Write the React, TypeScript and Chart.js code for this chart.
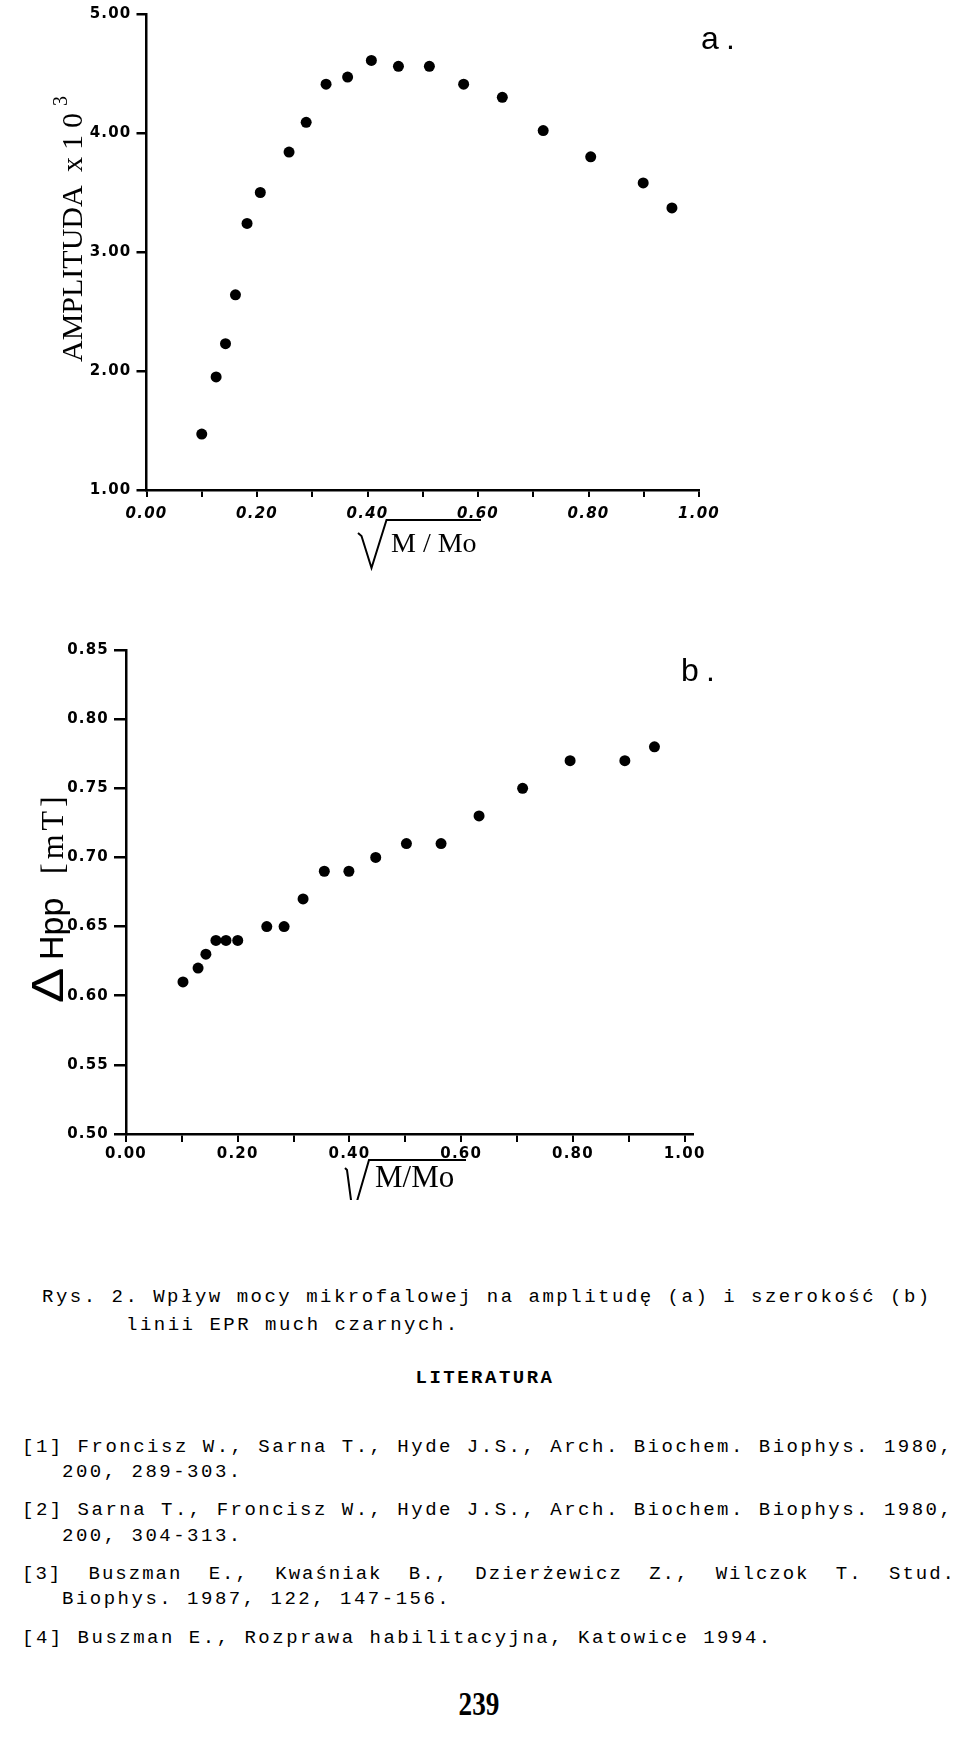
import React, { useEffect, useRef } from 'react';
import { Chart, registerables } from 'chart.js';
Chart.register(...registerables);

// ---- data ----
const ampX = [0.100, 0.126, 0.143, 0.161, 0.182, 0.206, 0.258, 0.289, 0.325, 0.364, 0.407, 0.456, 0.512, 0.574, 0.644, 0.718, 0.804, 0.899, 0.951];
const ampY = [1.47, 1.95, 2.23, 2.64, 3.24, 3.50, 3.84, 4.09, 4.41, 4.47, 4.61, 4.56, 4.56, 4.41, 4.30, 4.02, 3.80, 3.58, 3.37];
const hppX = [0.102, 0.129, 0.143, 0.161, 0.179, 0.200, 0.252, 0.283, 0.317, 0.355, 0.399, 0.447, 0.502, 0.564, 0.632, 0.710, 0.795, 0.893, 0.946];
const hppY = [0.61, 0.62, 0.63, 0.64, 0.64, 0.64, 0.65, 0.65, 0.67, 0.69, 0.69, 0.70, 0.71, 0.71, 0.73, 0.75, 0.77, 0.77, 0.78];

const captionLines = [
  'Rys. 2. Wpływ mocy mikrofalowej na amplitudę (a) i szerokość (b)',
  'linii EPR much czarnych.',
];
const refLines = [
  '[1] Froncisz W., Sarna T., Hyde J.S., Arch. Biochem. Biophys. 1980,',
  '200, 289-303.',
  '[2] Sarna T., Froncisz W., Hyde J.S., Arch. Biochem. Biophys. 1980,',
  '200, 304-313.',
  '[3] Buszman E., Kwaśniak B., Dzierżewicz Z., Wilczok T. Stud.',
  'Biophys. 1987, 122, 147-156.',
  '[4] Buszman E., Rozprawa habilitacyjna, Katowice 1994.',
];

const tickFont = { family: 'DejaVu Sans', size: 15, weight: 'bold' as const };
const tickFontItalic = { family: 'DejaVu Sans', size: 15, weight: 'bold' as const, style: 'italic' as const };

function spacingPlugin(px: string) {
  return {
    id: 'spacing',
    beforeDraw(chart: any) { chart.ctx.letterSpacing = px; },
    afterDraw(chart: any) { chart.ctx.letterSpacing = '0px'; },
  };
}

function decorPlugin(draw: (ctx: CanvasRenderingContext2D, chart: any) => void) {
  return {
    id: 'decor',
    afterDraw(chart: any) {
      const ctx = chart.ctx as CanvasRenderingContext2D;
      ctx.save();
      (ctx as any).letterSpacing = '0px';
      ctx.fillStyle = '#000';
      ctx.strokeStyle = '#000';
      ctx.textAlign = 'left';
      ctx.textBaseline = 'alphabetic';
      draw(ctx, chart);
      ctx.restore();
    },
  };
}

interface PanelCfg {
  xs: number[]; ys: number[];
  yMin: number; yMax: number; yStep: number;
  xMax: number;
  width: number; height: number;
  padTop: number; padRight: number;
  yWidth: number; xHeight: number;
  yTickLen: number; yPad: number; xTickLen: number; xPad: number;
  xFont: any;
  draw: (ctx: CanvasRenderingContext2D, chart: any) => void;
}

function Panel({ cfg, top }: { cfg: PanelCfg; top: number }) {
  const ref = useRef<HTMLCanvasElement>(null);
  useEffect(() => {
    if (!ref.current) return;
    const chart = new Chart(ref.current, {
      type: 'scatter',
      data: {
        datasets: [{
          data: cfg.xs.map((x, i) => ({ x, y: cfg.ys[i] })),
          backgroundColor: '#000',
          borderColor: '#000',
          borderWidth: 0,
          pointRadius: 5.5,
          pointHoverRadius: 5.5,
        }],
      },
      options: {
        responsive: false,
        maintainAspectRatio: false,
        animation: false,
        events: [],
        layout: { padding: { top: cfg.padTop, right: cfg.padRight, left: 0, bottom: 0 } },
        plugins: { legend: { display: false }, tooltip: { enabled: false } },
        scales: {
          x: {
            type: 'linear',
            min: 0,
            max: cfg.xMax,
            afterFit: (s: any) => { s.height = cfg.xHeight; },
            border: { display: true, color: '#000', width: 2.5 },
            grid: { display: true, drawOnChartArea: false, drawTicks: true, tickLength: cfg.xTickLen, color: '#000', lineWidth: 2 },
            ticks: {
              stepSize: 0.1,
              includeBounds: false,
              autoSkip: false,
              maxRotation: 0,
              color: '#000',
              font: cfg.xFont,
              padding: cfg.xPad,
              callback: (v: any) => (Math.round(Number(v) * 10) % 2 === 0 ? Number(v).toFixed(2) : ''),
            },
          },
          y: {
            type: 'linear',
            min: cfg.yMin,
            max: cfg.yMax,
            afterFit: (s: any) => { s.width = cfg.yWidth; },
            border: { display: true, color: '#000', width: 2.5 },
            grid: { display: true, drawOnChartArea: false, drawTicks: true, tickLength: cfg.yTickLen, color: '#000', lineWidth: 2.5 },
            ticks: {
              stepSize: cfg.yStep,
              autoSkip: false,
              color: '#000',
              font: tickFont,
              padding: cfg.yPad,
              callback: (v: any) => Number(v).toFixed(2),
            },
          },
        },
      },
      plugins: [spacingPlugin('1.2px'), decorPlugin(cfg.draw)],
    } as any);
    return () => chart.destroy();
  }, []);
  return (
    <canvas
      ref={ref}
      width={cfg.width}
      height={cfg.height}
      style={{ position: 'absolute', left: 0, top, width: cfg.width, height: cfg.height }}
    />
  );
}

const panelA: PanelCfg = {
  xs: ampX, ys: ampY,
  yMin: 1, yMax: 5, yStep: 1,
  xMax: 1,
  width: 760, height: 580,
  padTop: 10, padRight: 61,
  yWidth: 146.5, xHeight: 90,
  yTickLen: 10, yPad: 5, xTickLen: 7, xPad: 8,
  xFont: tickFontItalic,
  draw: (ctx) => {
    // y-axis title
    ctx.save();
    ctx.translate(82, 0);
    ctx.rotate(-Math.PI / 2);
    ctx.font = '30px "Liberation Serif"';
    ctx.fillText('AMPLITUDA', -362, 0);
    ctx.fillText('x', -172, 0);
    ctx.fillText('1', -150, 0);
    ctx.fillText('0', -128, 0);
    ctx.font = '20px "Liberation Serif"';
    ctx.fillText('3', -106, -15);
    ctx.restore();
    // x-axis title with radical
    ctx.lineWidth = 2;
    ctx.beginPath();
    ctx.moveTo(358, 533);
    ctx.lineTo(361.5, 536);
    ctx.lineTo(371.5, 568);
    ctx.lineTo(386.5, 520);
    ctx.lineTo(481, 520);
    ctx.stroke();
    ctx.font = '28px "Liberation Serif"';
    ctx.fillText('M / Mo', 391, 552);
    // panel letter
    ctx.font = '32px "Liberation Sans"';
    ctx.fillText('a', 701, 49);
    ctx.fillText('.', 726, 49);
  },
};

const panelB: PanelCfg = {
  xs: hppX, ys: hppY,
  yMin: 0.5, yMax: 0.85, yStep: 0.05,
  xMax: 1.015,
  width: 760, height: 600,
  padTop: 50, padRight: 67,
  yWidth: 126, xHeight: 66,
  yTickLen: 12, yPad: 5, xTickLen: 8, xPad: 3,
  xFont: tickFont,
  draw: (ctx) => {
    // y-axis title  ΔHpp [mT]
    ctx.save();
    ctx.translate(63, 0);
    ctx.rotate(-Math.PI / 2);
    ctx.save();
    ctx.translate(-403, 0);
    ctx.scale(1.2, 1);
    ctx.font = '44px "Liberation Sans"';
    ctx.fillText('Δ', 0, 0);
    ctx.restore();
    ctx.font = '34px "Liberation Sans"';
    ctx.fillText('Hpp', -360, 0);
    ctx.font = '32px "Liberation Serif"';
    (ctx as any).letterSpacing = '4px';
    ctx.fillText('[mT]', -274, 0);
    (ctx as any).letterSpacing = '0px';
    ctx.restore();
    // x-axis title with radical
    ctx.lineWidth = 2;
    ctx.beginPath();
    ctx.moveTo(345, 568);
    ctx.lineTo(347, 570);
    ctx.lineTo(353, 615);
    ctx.lineTo(369, 560);
    ctx.lineTo(466, 560);
    ctx.stroke();
    ctx.font = '31px "Liberation Serif"';
    ctx.fillText('M/Mo', 375, 587);
    // panel letter
    ctx.font = '32px "Liberation Sans"';
    ctx.fillText('b', 681, 81);
    ctx.fillText('.', 706, 81);
  },
};

const mono: React.CSSProperties = {
  position: 'absolute',
  fontFamily: '"Liberation Mono", monospace',
  fontSize: 19,
  lineHeight: '20px',
  letterSpacing: '2.5px',
  whiteSpace: 'pre',
  color: '#000',
  margin: 0,
};

export default function App() {
  const lineTops = [1437, 1462, 1500, 1526, 1564, 1589, 1628];
  const lineLefts = [22, 62, 22, 62, 22, 62, 22];
  return (
    <div style={{ position: 'absolute', left: 0, top: 0, width: 960, height: 1747, background: '#fff', overflow: 'hidden' }}>
      <Panel cfg={panelA} top={0} />
      <Panel cfg={panelB} top={600} />
      <div style={{ ...mono, left: 42, top: 1287 }}>{captionLines[0]}</div>
      <div style={{ ...mono, left: 126, top: 1315 }}>{captionLines[1]}</div>
      <div style={{ ...mono, left: 9, width: 952, top: 1368, textAlign: 'center', fontWeight: 'bold' }}>LITERATURA</div>
      {refLines.map((t, i) => (
        i === 4 ? (
          <div key={i} style={{ ...mono, left: lineLefts[i], width: 956 - lineLefts[i], top: lineTops[i], whiteSpace: 'normal', textAlign: 'justify', textAlignLast: 'justify' as any, letterSpacing: '2px' }}>{t}</div>
        ) : (
          <div key={i} style={{ ...mono, left: lineLefts[i], top: lineTops[i] }}>{t}</div>
        )
      ))}
      <div style={{ position: 'absolute', left: 0, width: 958, top: 1686, textAlign: 'center', fontFamily: '"Liberation Serif", serif', fontWeight: 'bold', fontSize: 34, lineHeight: '36px', transform: 'scaleX(0.8)' }}>239</div>
    </div>
  );
}
